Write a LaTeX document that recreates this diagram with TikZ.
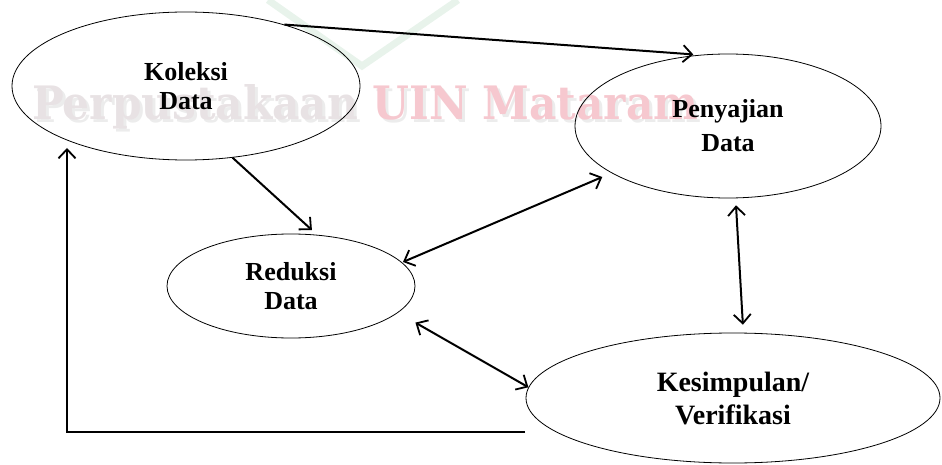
\documentclass[tikz,border=0pt]{standalone}
\usepackage{fontspec}
\setmainfont{Liberation Serif}
\newfontfamily\wmfont{DejaVu Serif}
\usetikzlibrary{shapes.geometric,arrows.meta}
\definecolor{wmgrey}{RGB}{232,226,228}
\definecolor{wmpink}{RGB}{246,200,207}
\definecolor{wmshadow}{RGB}{236,236,236}
\definecolor{wmgreen}{RGB}{232,243,235}
\begin{document}
\begin{tikzpicture}[x=1pt,y=-1pt,
  ell/.style={ellipse,draw,line width=0.8pt,inner sep=0pt,align=center,
    font=\bfseries\fontsize{26}{29}\selectfont},
  conn/.style={line width=2pt,-{Straight Barb[length=9pt,width=17pt,line width=1.8pt]}},
  bi/.style={line width=2pt,{Straight Barb[length=9pt,width=17pt,line width=1.8pt]}-{Straight Barb[length=9pt,width=17pt,line width=1.8pt]}}]
\useasboundingbox (0,0) rectangle (942,465);
% faint watermark
\draw[wmgreen,line width=7pt] (268,0) -- (362,66) -- (458,0);
\node[anchor=base west,inner sep=0pt,text=wmshadow] (wms) at (35,123)
  {\resizebox{666pt}{35pt}{\wmfont\bfseries Perpustakaan UIN Mataram}};
\node[anchor=base west,inner sep=0pt] (wm) at (32,120)
  {\resizebox{666pt}{35pt}{\wmfont\bfseries\textcolor{wmgrey}{Perpustakaan} \textcolor{wmpink}{UIN Mataram}}};
% ellipses
\node[ell,minimum width=348pt,minimum height=148pt] (kol) at (186,86) {Koleksi\\Data};
\node[ell,minimum width=306pt,minimum height=144pt,font=\bfseries\fontsize{26}{34}\selectfont] (pen) at (728,126) {Penyajian\\Data};
\node[ell,minimum width=248pt,minimum height=104pt] (red) at (291,286) {Reduksi\\Data};
\node[ell,minimum width=414pt,minimum height=130pt,font=\bfseries\fontsize{28}{33}\selectfont] (kes) at (733,398) {Kesimpulan/\\Verifikasi};
% connectors
\draw[conn,shorten >=6pt] (kol.32) -- (pen.112);
\draw[conn,shorten >=7pt] (kol.-57) -- (red.63);
\draw[bi,shorten <=1pt,shorten >=10pt] (red.12) -- (pen.202);
\draw[bi,shorten <=7pt,shorten >=8pt] (pen.-84) -- (kes.81);
\draw[bi,shorten <=20pt] (red.-14) -- (kes.177);
\coordinate (fbs) at (525,432);
\coordinate (fbe) at (67,148);
\draw[conn] (fbs) -| (fbe);
\end{tikzpicture}
\end{document}
